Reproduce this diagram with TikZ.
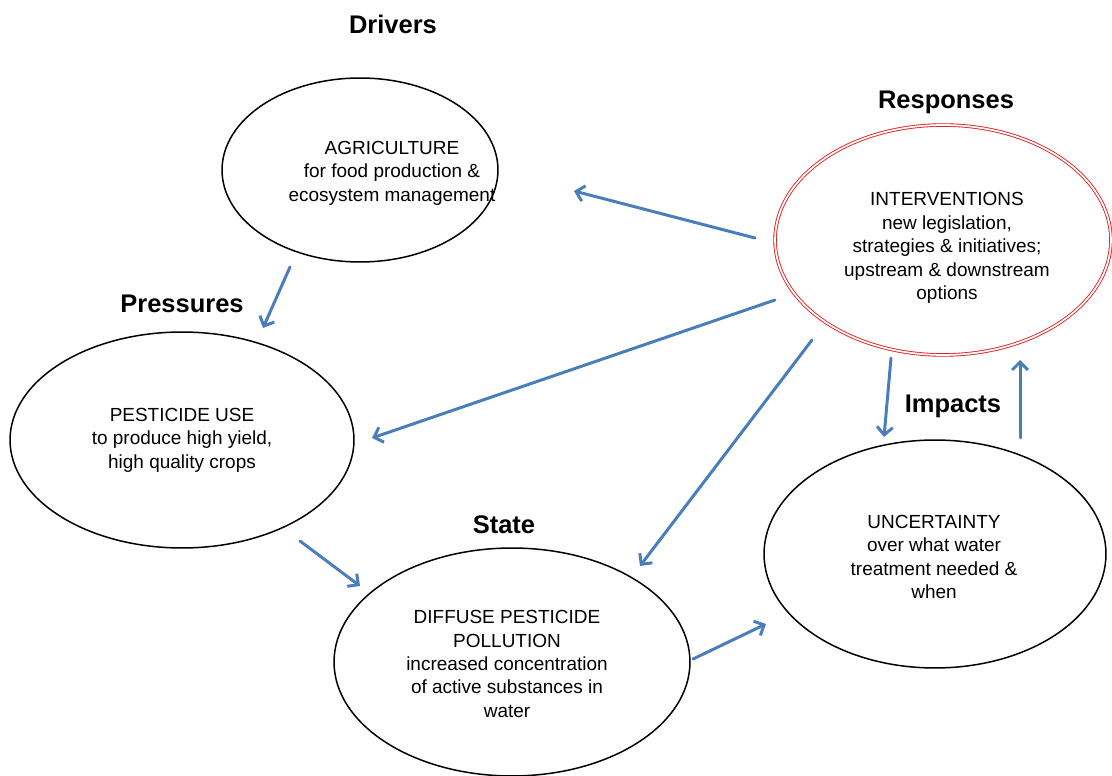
\documentclass[tikz,border=0pt]{standalone}
\usepackage{fontspec}
\setmainfont{Liberation Sans}
\usetikzlibrary{shapes.geometric,arrows.meta}
\definecolor{flowblue}{RGB}{74,126,187}
\definecolor{respred}{RGB}{230,30,30}
\tikzset{
	stage/.style={ellipse, draw=black, line width=0.85pt, inner sep=0pt},
	stagetext/.style={align=center, font=\fontsize{10.8}{13.3}\selectfont},
	heading/.style={font=\fontsize{14.5}{17}\selectfont\bfseries},
	flow/.style={draw=flowblue, line width=1.7pt, line cap=round, -{Straight Barb[length=4.5pt,width=9pt]}}
}
\begin{document}
\begin{tikzpicture}[x=0.02cm, y=-0.02cm, line join=round]
		\useasboundingbox (0,0) rectangle (1112,776);
		% ellipses
		\node[stage, minimum width=5.52cm, minimum height=3.68cm] (agri) at (360,170) {};
		\node[stage, minimum width=6.88cm, minimum height=4.32cm] (pest) at (182,440) {};
		\node[stage, minimum width=7.12cm, minimum height=4.56cm] (diff) at (512,662) {};
		\node[stage, minimum width=6.84cm, minimum height=4.56cm] (unc) at (935,554) {};
		\node[stage, draw=respred, line width=0.5pt, double=white, double distance=1pt,
			minimum width=6.72cm, minimum height=4.6cm] (interv) at (943,240) {};
		% texts
		\node[stagetext] (agritext) at (392,173) {AGRICULTURE\\for food production \&\\ecosystem management};
		\node[stagetext] (pesttext) at (182,440) {PESTICIDE USE\\to produce high yield,\\high quality crops};
		\node[stagetext] (difftext) at (507,664) {DIFFUSE PESTICIDE\\POLLUTION\\increased concentration\\of active substances in\\water};
		\node[stagetext] (inttext) at (947,248) {INTERVENTIONS\\new legislation,\\strategies \& initiatives;\\upstream \& downstream\\options};
		\node[stagetext] (unctext) at (934,557) {UNCERTAINTY\\over what water\\treatment needed \&\\when};
		% headings
		\node[heading] (drivers) at (393,24) {Drivers};
		\node[heading] (responses) at (946,102) {Responses};
		\node[heading] (pressures) at (182,304) {Pressures};
		\node[heading] (impacts) at (953,406) {Impacts};
		\node[heading] (state) at (504,525) {State};
		% arrow ends
		\path
			(290,267) coordinate (ap1) (263,328) coordinate (ap2)
			(755,238) coordinate (ia1) (574,191) coordinate (ia2)
			(775,300) coordinate (ip1) (372,438) coordinate (ip2)
			(812,340) coordinate (id1) (640,566) coordinate (id2)
			(891,358) coordinate (iu1) (884,437) coordinate (iu2)
			(1020,438) coordinate (ui1) (1020,360) coordinate (ui2)
			(300,541) coordinate (pd1) (360,586) coordinate (pd2)
			(693,659) coordinate (du1) (766,624) coordinate (du2)
		;
		\foreach \s/\e in {ap1/ap2, ia1/ia2, ip1/ip2, id1/id2, iu1/iu2, ui1/ui2, pd1/pd2, du1/du2}{
			\draw[flow] (\s) -- (\e);
		}
		\end{tikzpicture}
\end{document}
